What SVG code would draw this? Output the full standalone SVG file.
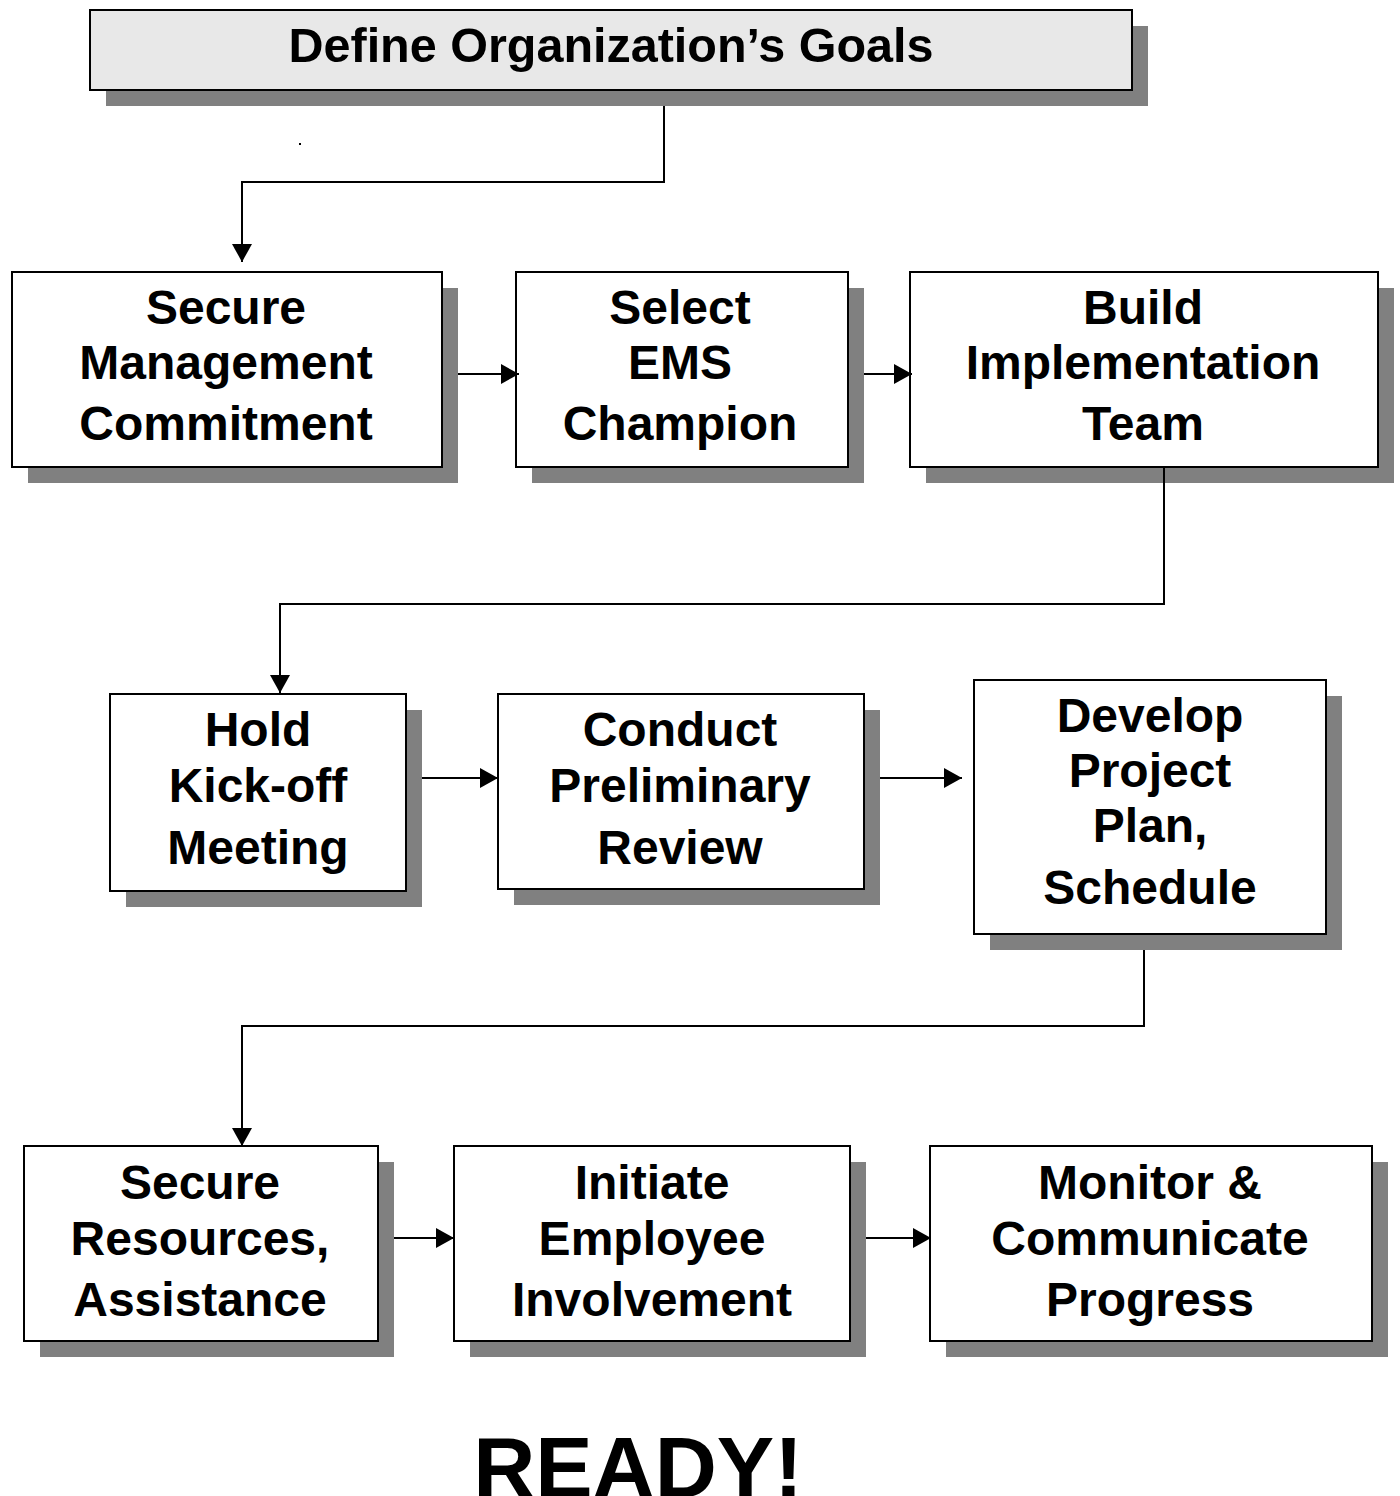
<svg xmlns="http://www.w3.org/2000/svg" width="1400" height="1496" viewBox="0 0 1400 1496">
  <style>
    .shadow { fill: #808080; }
    .box { fill: #ffffff; stroke: #000000; stroke-width: 2; }
    .box-top { fill: #e8e8e8; stroke: #000000; stroke-width: 2; }
    .label { font-family: "Liberation Sans", Arial, sans-serif; font-weight: bold; font-size: 48px; fill: #000000; text-anchor: middle; }
    .title { font-size: 48.5px; }
    .big { font-family: "Liberation Sans", Arial, sans-serif; font-weight: bold; font-size: 86px; fill: #000000; text-anchor: middle; }
    .conn { fill: none; stroke: #000000; stroke-width: 2; }
  </style>
  <defs>
    <marker id="arrow" markerUnits="userSpaceOnUse" markerWidth="18" markerHeight="20" refX="18" refY="10" orient="auto">
      <path d="M0,0 L18,10 L0,20 Z" fill="#000000"/>
    </marker>
  </defs>
  <rect width="1400" height="1496" fill="#ffffff"/>

  <!-- Top goal box -->
  <g id="define-goals">
    <rect class="shadow" x="106" y="26" width="1042" height="80"/>
    <rect class="box-top" x="90" y="10" width="1042" height="80"/>
    <text class="label title" x="611" y="62">Define Organization’s Goals</text>
  </g>

  <!-- stray period -->
  <rect x="299" y="143" width="2" height="2" fill="#000000"/>

  <!-- Row 1 -->
  <g id="secure-commitment">
    <rect class="shadow" x="28" y="288" width="430" height="195"/>
    <rect class="box" x="12" y="272" width="430" height="195"/>
    <text class="label" x="226" y="324">Secure</text>
    <text class="label" x="226" y="379">Management</text>
    <text class="label" x="226" y="440">Commitment</text>
  </g>
  <g id="select-champion">
    <rect class="shadow" x="532" y="288" width="332" height="195"/>
    <rect class="box" x="516" y="272" width="332" height="195"/>
    <text class="label" x="680" y="324">Select</text>
    <text class="label" x="680" y="379">EMS</text>
    <text class="label" x="680" y="440">Champion</text>
  </g>
  <g id="build-team">
    <rect class="shadow" x="926" y="288" width="468" height="195"/>
    <rect class="box" x="910" y="272" width="468" height="195"/>
    <text class="label" x="1143" y="324">Build</text>
    <text class="label" x="1143" y="379">Implementation</text>
    <text class="label" x="1143" y="440">Team</text>
  </g>

  <!-- Row 2 -->
  <g id="kickoff-meeting">
    <rect class="shadow" x="126" y="710" width="296" height="197"/>
    <rect class="box" x="110" y="694" width="296" height="197"/>
    <text class="label" x="258" y="746">Hold</text>
    <text class="label" x="258" y="802">Kick-off</text>
    <text class="label" x="258" y="864">Meeting</text>
  </g>
  <g id="preliminary-review">
    <rect class="shadow" x="514" y="710" width="366" height="195"/>
    <rect class="box" x="498" y="694" width="366" height="195"/>
    <text class="label" x="680" y="746">Conduct</text>
    <text class="label" x="680" y="802">Preliminary</text>
    <text class="label" x="680" y="864">Review</text>
  </g>
  <g id="project-plan">
    <rect class="shadow" x="990" y="696" width="352" height="254"/>
    <rect class="box" x="974" y="680" width="352" height="254"/>
    <text class="label" x="1150" y="732">Develop</text>
    <text class="label" x="1150" y="787">Project</text>
    <text class="label" x="1150" y="842">Plan,</text>
    <text class="label" x="1150" y="904">Schedule</text>
  </g>

  <!-- Row 3 -->
  <g id="secure-resources">
    <rect class="shadow" x="40" y="1162" width="354" height="195"/>
    <rect class="box" x="24" y="1146" width="354" height="195"/>
    <text class="label" x="200" y="1199">Secure</text>
    <text class="label" x="200" y="1255">Resources,</text>
    <text class="label" x="200" y="1316">Assistance</text>
  </g>
  <g id="employee-involvement">
    <rect class="shadow" x="470" y="1162" width="396" height="195"/>
    <rect class="box" x="454" y="1146" width="396" height="195"/>
    <text class="label" x="652" y="1199">Initiate</text>
    <text class="label" x="652" y="1255">Employee</text>
    <text class="label" x="652" y="1316">Involvement</text>
  </g>
  <g id="monitor-progress">
    <rect class="shadow" x="946" y="1162" width="442" height="195"/>
    <rect class="box" x="930" y="1146" width="442" height="195"/>
    <text class="label" x="1150" y="1199">Monitor &amp;</text>
    <text class="label" x="1150" y="1255">Communicate</text>
    <text class="label" x="1150" y="1316">Progress</text>
  </g>

  <!-- Connectors -->
  <g id="connectors">
    <polyline class="conn" points="664,106 664,182 242,182 242,262" marker-end="url(#arrow)"/>
    <line class="conn" x1="458" y1="374" x2="519" y2="374" marker-end="url(#arrow)"/>
    <line class="conn" x1="864" y1="374" x2="912" y2="374" marker-end="url(#arrow)"/>
    <polyline class="conn" points="1164,467 1164,604 280,604 280,693" marker-end="url(#arrow)"/>
    <line class="conn" x1="422" y1="778" x2="498" y2="778" marker-end="url(#arrow)"/>
    <line class="conn" x1="880" y1="778" x2="962" y2="778" marker-end="url(#arrow)"/>
    <polyline class="conn" points="1144,950 1144,1026 242,1026 242,1146" marker-end="url(#arrow)"/>
    <line class="conn" x1="394" y1="1238" x2="454" y2="1238" marker-end="url(#arrow)"/>
    <line class="conn" x1="866" y1="1238" x2="931" y2="1238" marker-end="url(#arrow)"/>
  </g>

  <text class="big" x="638" y="1497">READY!</text>
</svg>
